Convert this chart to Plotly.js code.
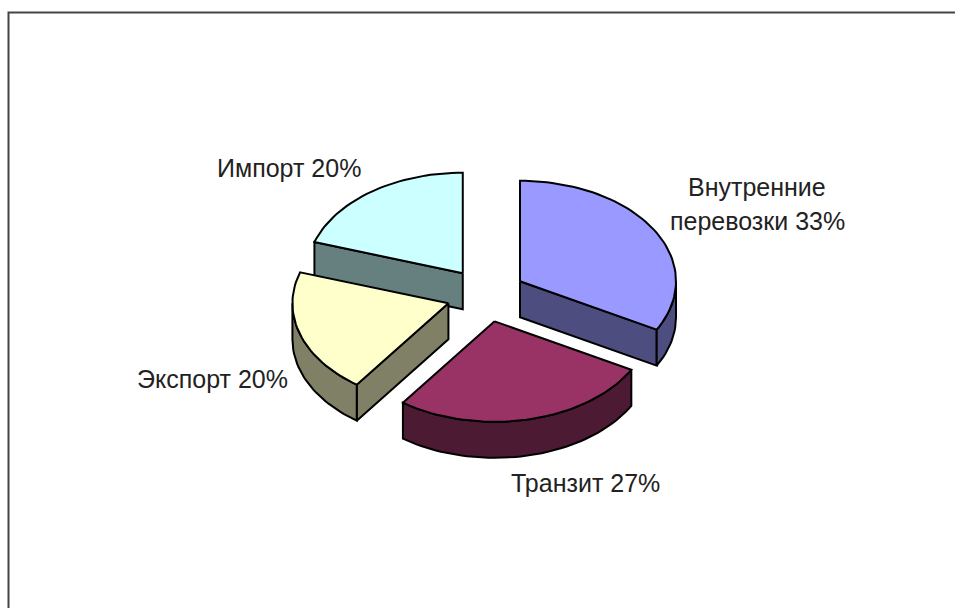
<!DOCTYPE html>
<html>
<head>
<meta charset="utf-8">
<script src="https://cdn.plot.ly/plotly-3.0.1.min.js"></script>
<style>html,body{margin:0;padding:0;background:#fff}#c{width:955px;height:608px}</style>
</head>
<body>
<div id="c"></div>
<script>
var categories = ['Внутренние перевозки', 'Транзит', 'Экспорт', 'Импорт'];
var shares = [33, 27, 20, 20];
var labelLines = [['Внутренние', 'перевозки 33%'], ['Транзит 27%'], ['Экспорт 20%'], ['Импорт 20%']];
var topColors = ['#9999FF', '#993366', '#FFFFCC', '#CCFFFF'];
var sideColors = ['#4D4D80', '#4D1A33', '#808066', '#668080'];
var drawOrder = [3, 2, 0, 1];
var labelX = [757, 585, 212, 289];
var labelY = [[187, 221], [483], [379], [168]];

var cx = 486, cy = 295, ra = 156, rb = 100.5, ea = 39.5, eb = 27, depth = 36;
var rad = Math.PI / 180;
var total = shares.reduce(function (a, b) { return a + b; }, 0);

function pt(ax, ay, t) { return [ax + ra * Math.sin(t * rad), ay - rb * Math.cos(t * rad)]; }
function arc(ax, ay, t0, t1) {
  var out = [], n = Math.max(2, Math.ceil(Math.abs(t1 - t0) / 2));
  for (var i = 0; i <= n; i++) out.push(pt(ax, ay, t0 + (t1 - t0) * i / n));
  return out;
}
function poly(points, color, name) {
  var p = points.concat([points[0]]);
  return {
    type: 'scatter', mode: 'lines', x: p.map(function (q) { return q[0]; }), y: p.map(function (q) { return q[1]; }),
    fill: 'toself', fillcolor: color, line: { color: '#000', width: 2 }, hoverinfo: 'skip', name: name, showlegend: false
  };
}
function down(list) { return list.map(function (q) { return [q[0], q[1] + depth]; }); }

var starts = [], acc = 0;
shares.forEach(function (s) { starts.push(acc / total * 360); acc += s; });

var traces = [];
drawOrder.forEach(function (i) {
  var t0 = starts[i], t1 = t0 + shares[i] / total * 360, mid = (t0 + t1) / 2;
  var ax = cx + ea * Math.sin(mid * rad), ay = cy - eb * Math.cos(mid * rad);
  var apex = [ax, ay];
  [t0, t1].forEach(function (t, k) {
    var s = Math.sin(t * rad);
    if ((k === 0 && s < -1e-6) || (k === 1 && s > 1e-6)) {
      var edge = [apex, pt(ax, ay, t)];
      traces.push(poly(edge.concat(down(edge).reverse()), sideColors[i], categories[i]));
    }
  });
  var lo = Math.max(t0, 90), hi = Math.min(t1, 270);
  if (hi > lo) {
    var a = arc(ax, ay, lo, hi);
    traces.push(poly(a.concat(down(a).reverse()), sideColors[i], categories[i]));
  }
  traces.push(poly([apex].concat(arc(ax, ay, t0, t1)), topColors[i], categories[i]));
});

var annotations = [];
labelLines.forEach(function (lines, i) {
  lines.forEach(function (line, j) {
    annotations.push({
      x: labelX[i], y: labelY[i][j], xref: 'x', yref: 'y', text: line, showarrow: false,
      xanchor: 'center', yanchor: 'middle',
      font: { family: '"Liberation Sans", Arial, sans-serif', size: 25, color: '#222' }
    });
  });
});

var axis = { visible: false, fixedrange: true, showgrid: false, zeroline: false };
var layout = {
  width: 955, height: 608, margin: { l: 0, r: 0, t: 0, b: 0 }, paper_bgcolor: '#fff', plot_bgcolor: '#fff',
  showlegend: false, hovermode: false,
  xaxis: Object.assign({ range: [0, 955] }, axis),
  yaxis: Object.assign({ range: [608, 0] }, axis),
  annotations: annotations,
  shapes: [{ type: 'path', xref: 'x', yref: 'y', path: 'M 955 12.5 L 8.5 12.5 L 8.5 608', line: { color: '#444', width: 2 } }]
};
Plotly.newPlot('c', traces, layout, { displayModeBar: false, staticPlot: true });
</script>
</body>
</html>
